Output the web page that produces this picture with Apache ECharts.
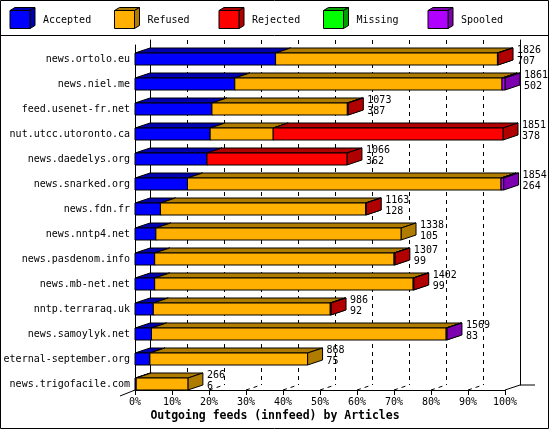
<!DOCTYPE html>
<html>
<head>
<meta charset="utf-8">
<script src="https://cdn.jsdelivr.net/npm/echarts@6/dist/echarts.min.js"></script>
<style>
html, body { margin: 0; padding: 0; background: #fff; }
#chart { width: 550px; height: 430px; }
</style>
</head>
<body>
<div id="chart"></div>
<script>
var hosts = ['news.ortolo.eu', 'news.niel.me', 'feed.usenet-fr.net', 'nut.utcc.utoronto.ca',
	'news.daedelys.org', 'news.snarked.org', 'news.fdn.fr', 'news.nntp4.net', 'news.pasdenom.info',
	'news.mb-net.net', 'nntp.terraraq.uk', 'news.samoylyk.net', 'eternal-september.org', 'news.trigofacile.com'];
var offered  = [1826, 1861, 1073, 1851, 1066, 1854, 1163, 1338, 1307, 1402, 986, 1569, 868, 266];
var accepted = [707, 502, 387, 378, 362, 264, 128, 105, 99, 99, 92, 83, 75, 6];
var refused  = [1116, 1344, 681, 317, 0, 1577, 1032, 1233, 1204, 1300, 890, 1482, 793, 260];
var rejected = [3, 0, 5, 1156, 704, 0, 3, 0, 4, 3, 4, 0, 0, 0];
var missing  = [0, 0, 0, 0, 0, 0, 0, 0, 0, 0, 0, 0, 0, 0];
var spooled  = [0, 15, 0, 0, 0, 13, 0, 0, 0, 0, 0, 4, 0, 0];
var pctTicks = [0, 10, 20, 30, 40, 50, 60, 70, 80, 90, 100];

var segNames  = ['Accepted', 'Refused', 'Rejected', 'Missing', 'Spooled'];
var segValues = [accepted, refused, rejected, missing, spooled];
var segColors = ['#0000FF', '#FFB000', '#FF0000', '#00FF00', '#B000FF'];
var segDarks  = ['#0000B0', '#B07C00', '#B00000', '#00A000', '#7C00B0'];

var FONT = 'DejaVu Sans Mono';
var DX = 15, DY = 5, BAR_H = 12;
var maxTotal = Math.max.apply(null, offered);

function cube(x0, x1, yT, yB, color, dark) {
	return [
		{type: 'polygon', shape: {points: [[x0, yT], [x1, yT], [x1 + DX, yT - DY], [x0 + DX, yT - DY]]},
			style: {fill: dark, stroke: '#000', lineWidth: 1}},
		{type: 'polygon', shape: {points: [[x1, yT], [x1 + DX, yT - DY], [x1 + DX, yB - DY], [x1, yB]]},
			style: {fill: dark, stroke: '#000', lineWidth: 1}},
		{type: 'rect', shape: {x: x0, y: yT, width: x1 - x0, height: yB - yT},
			style: {fill: color, stroke: '#000', lineWidth: 1}}
	];
}

function segRender(k) {
	return function (params, api) {
		var s = api.value(0), e = api.value(1), c = api.value(2);
		if (e - s <= 0) return;
		var p0 = api.coord([s, c]);
		var p1 = api.coord([e, c]);
		var band = api.size([0, 1])[1];
		var yB = p0[1] + band / 2;
		return {type: 'group', children: cube(p0[0], p1[0], yB - BAR_H, yB, segColors[k], segDarks[k])};
	};
}

var series = [];
var starts = hosts.map(function () { return 0; });
segValues.forEach(function (vals, k) {
	var data = vals.map(function (v, i) {
		var d = [starts[i], starts[i] + v, i];
		starts[i] += v;
		return d;
	});
	series.push({
		name: segNames[k], type: 'custom', z: 3,
		renderItem: segRender(k),
		encode: {x: [0, 1], y: 2},
		data: data
	});
});

// totals / accepted labels at the end of every bar
series.push({
	type: 'custom', z: 4,
	encode: {x: 0, y: 1},
	data: offered.map(function (v, i) { return [v, i, accepted[i]]; }),
	renderItem: function (params, api) {
		var p = api.coord([api.value(0), api.value(1)]);
		var yB = p[1] + api.size([0, 1])[1] / 2;
		return {
			type: 'text',
			style: {
				text: api.value(0) + '\n' + api.value(2),
				x: p[0] + DX + 4, y: yB - 20.5,
				fill: '#000', font: '10px "' + FONT + '"',
				textAlign: 'left', textVerticalAlign: 'top', lineHeight: 11
			}
		};
	}
});

// floor lines going from the front axis to the back wall
series.push({
	type: 'custom', z: 1,
	encode: {x: 0, y: 1},
	data: pctTicks.map(function (p) { return [p * maxTotal / 100, 0]; }),
	renderItem: function (params, api) {
		var x = api.coord([api.value(0), 0])[0];
		var y = params.coordSys.y + params.coordSys.height;
		var line = {type: 'line', shape: {x1: x, y1: y, x2: x + DX, y2: y - DY},
			style: {stroke: '#000', lineWidth: 1, lineDash: [4, 4]}};
		if (params.dataIndex === 0) {
			return {type: 'line', shape: {x1: x - DX, y1: y + DY + 1, x2: x, y2: y}, style: {stroke: '#000', lineWidth: 1}};
		}
		if (params.dataIndex === pctTicks.length - 1) {
			return {type: 'group', children: [
				{type: 'line', shape: {x1: x, y1: y, x2: x + DX, y2: y - DY}, style: {stroke: '#000', lineWidth: 1}},
				{type: 'line', shape: {x1: x + DX, y1: y - DY, x2: x + 2 * DX, y2: y - DY}, style: {stroke: '#000', lineWidth: 1}}
			]};
		}
		return line;
	}
});

var legendEls = [];
segNames.forEach(function (name, k) {
	var lx = 10 + k * 104.5;
	var cubeEls = [
		{type: 'polygon', shape: {points: [[lx, 10.5], [lx + 20, 10.5], [lx + 25, 7.5], [lx + 5, 7.5]]},
			style: {fill: segDarks[k], stroke: '#000', lineWidth: 1}},
		{type: 'polygon', shape: {points: [[lx + 20, 10.5], [lx + 25, 7.5], [lx + 25, 25.5], [lx + 20, 28.5]]},
			style: {fill: segDarks[k], stroke: '#000', lineWidth: 1}},
		{type: 'rect', shape: {x: lx, y: 10.5, width: 20, height: 18},
			style: {fill: segColors[k], stroke: '#000', lineWidth: 1}},
		{type: 'text', style: {text: name, x: lx + 33, y: 20, fill: '#000', font: '10px "' + FONT + '"',
			textVerticalAlign: 'middle'}}
	];
	legendEls = legendEls.concat(cubeEls);
});

var chart = echarts.init(document.getElementById('chart'));
chart.setOption({
	animation: false,
	backgroundColor: '#fff',
	title: {
		text: 'Outgoing feeds (innfeed) by Articles',
		left: 'center', top: 410, padding: 0,
		textStyle: {fontFamily: FONT, fontWeight: 'bold', fontSize: 11.5, color: '#000'}
	},
	grid: [
		{left: 135, top: 40, width: 370, height: 350},
		{left: 150, top: 40, width: 370, height: 345},
		{left: 135, top: 45, width: 370, height: 345}
	],
	xAxis: [
		{
			gridIndex: 0, type: 'value', min: 0, max: maxTotal, interval: maxTotal / 10,
			axisLine: {show: true, lineStyle: {color: '#000', width: 1}},
			axisTick: {show: true, length: 5, lineStyle: {color: '#000'}},
			axisLabel: {
				margin: 7, color: '#000', fontFamily: FONT, fontSize: 10,
				formatter: function (v) { return Math.round(v * 100 / maxTotal) + '%'; }
			},
			splitLine: {show: false}
		},
		{
			gridIndex: 1, type: 'value', min: 0, max: maxTotal, interval: maxTotal / 10,
			axisLine: {show: false}, axisTick: {show: false}, axisLabel: {show: false},
			splitLine: {show: true, lineStyle: {color: '#000', width: 1, type: [4, 4]}}
		},
		{gridIndex: 2, type: 'value', show: false}
	],
	yAxis: [
		{
			gridIndex: 0, type: 'category', data: hosts, inverse: true,
			axisLine: {show: false}, axisTick: {show: false},
			axisLabel: {interval: 0, margin: 5, color: '#000', fontFamily: FONT, fontSize: 10,
				verticalAlign: 'top', lineHeight: 13}
		},
		{
			gridIndex: 1, type: 'value', position: 'left',
			axisLine: {show: true, lineStyle: {color: '#000'}}, axisTick: {show: false},
			axisLabel: {show: false}, splitLine: {show: false}
		},
		{
			gridIndex: 1, type: 'value', position: 'right',
			axisLine: {show: true, lineStyle: {color: '#000'}}, axisTick: {show: false},
			axisLabel: {show: false}, splitLine: {show: false}
		},
		{
			gridIndex: 2, type: 'value',
			axisLine: {show: true, lineStyle: {color: '#000'}}, axisTick: {show: false},
			axisLabel: {show: false}, splitLine: {show: false}
		}
	],
	graphic: [
		{type: 'rect', silent: true, z: 0, shape: {x: 0.5, y: 0.5, width: 548, height: 428},
			style: {fill: 'none', stroke: '#000', lineWidth: 1}},
		{type: 'line', silent: true, shape: {x1: 0, y1: 35.5, x2: 549, y2: 35.5},
			style: {stroke: '#000', lineWidth: 1}},
		{type: 'group', children: legendEls}
	],
	series: series
});
</script>
</body>
</html>
